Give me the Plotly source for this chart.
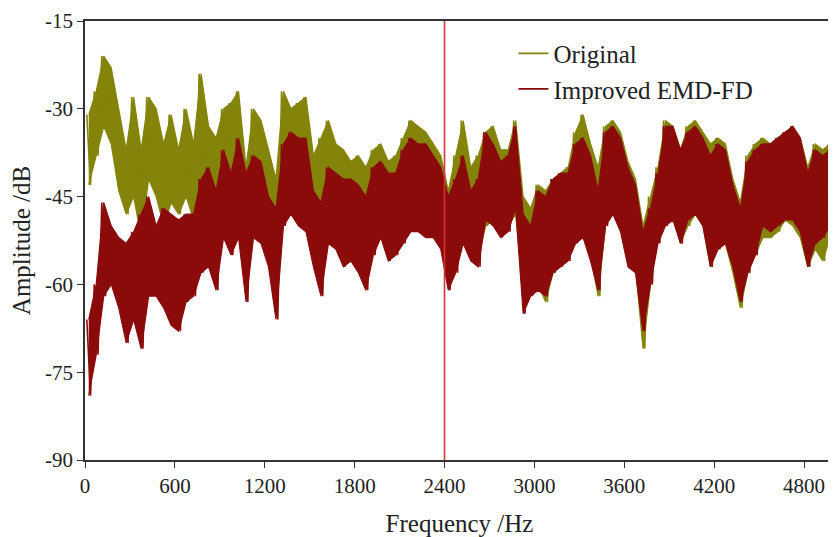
import plotly.graph_objects as go

# Frequency bins (Hz), 50 Hz wide, start of each bin
bin_start = list(range(0, 5000, 50))

# Original spectrum: upper / lower envelope of each 50 Hz bin (dB)
orig_hi = [-31, -27, -21, -23, -30, -37, -28, -37, -28, -30,
           -36, -31, -37, -30, -36, -24, -33, -35, -30, -29,
           -27, -40, -30, -32, -37, -42, -27, -30, -29, -28,
           -38, -35, -32, -36, -37, -39, -38, -40, -37, -36,
           -39, -38, -35, -32, -33, -34, -36, -38, -44, -38,
           -32, -40, -38, -34, -33, -37, -37, -32, -45, -47,
           -43, -44, -42, -41, -40, -34, -31, -36, -40, -33,
           -32, -34, -39, -42, -50, -45, -40, -32, -33, -37,
           -33, -32, -34, -36, -35, -36, -42, -46, -38, -36,
           -35, -36, -35, -34, -33, -35, -40, -36, -37, -36]
orig_lo = [-43, -38, -33, -36, -44, -48, -45, -52, -42, -45,
           -50, -46, -48, -45, -49, -44, -47, -49, -41, -42,
           -44, -54, -45, -47, -50, -60, -44, -46, -44, -46,
           -52, -57, -47, -50, -49, -51, -50, -54, -52, -50,
           -52, -53, -52, -48, -49, -50, -51, -52, -60, -56,
           -50, -52, -55, -50, -49, -51, -50, -48, -62, -60,
           -60, -63, -58, -56, -55, -52, -51, -55, -62, -50,
           -47, -50, -56, -57, -71, -60, -52, -49, -48, -53,
           -50, -48, -50, -57, -54, -53, -58, -64, -58, -55,
           -52, -52, -51, -49, -50, -52, -57, -54, -56, -52]

# Improved EMD-FD spectrum: upper / lower envelope of each 50 Hz bin (dB)
emd_hi = [-66, -60, -46, -50, -52, -53, -51, -48, -45, -50,
          -47, -48, -49, -48, -48, -42, -40, -44, -37, -41,
          -35, -41, -38, -39, -45, -47, -36, -34, -35, -35,
          -44, -46, -40, -41, -42, -42, -43, -45, -40, -39,
          -41, -41, -37, -35, -36, -36, -38, -40, -45, -42,
          -38, -44, -42, -34, -36, -39, -38, -33, -48, -50,
          -44, -45, -42, -41, -41, -36, -35, -38, -44, -34,
          -33, -35, -40, -43, -51, -47, -41, -33, -33, -37,
          -34, -33, -35, -38, -36, -37, -43, -47, -39, -37,
          -36, -36, -35, -34, -33, -35, -41, -37, -38, -37]
emd_lo = [-79, -72, -62, -60, -64, -70, -66, -71, -62, -62,
          -64, -67, -68, -63, -62, -58, -57, -61, -52, -55,
          -52, -63, -52, -53, -57, -66, -50, -48, -50, -51,
          -57, -62, -53, -54, -57, -56, -58, -61, -55, -52,
          -56, -55, -53, -51, -51, -52, -52, -54, -61, -58,
          -53, -56, -57, -49, -50, -52, -51, -47, -65, -62,
          -61, -62, -58, -57, -56, -53, -52, -56, -61, -50,
          -48, -51, -57, -58, -68, -60, -53, -50, -49, -53,
          -49, -48, -50, -57, -54, -53, -57, -63, -58, -55,
          -50, -51, -50, -49, -49, -51, -57, -53, -52, -50]

marker_freq = 2400

x_ticks = [0, 600, 1200, 1800, 2400, 3000, 3600, 4200, 4800]
y_ticks = [-90, -75, -60, -45, -30, -15]
y_tick_text = ["-90", "-75", "-60", "-45", "-30", "-15"]

OLIVE = "#84840a"
DARKRED = "#8b0b0b"
FONT = "Liberation Serif, Times New Roman, serif"


def zigzag(starts, hi, lo):
    xs, ys = [], []
    for s, h, l in zip(starts, hi, lo):
        xs += [s + 12, s + 37]
        ys += [h, l]
    return xs, ys


def band(starts, hi, lo):
    xs = [s + 25 for s in starts]
    return xs + xs[::-1], list(hi) + list(lo)[::-1]


fig = go.Figure()
for name, hi, lo, col, grp in [("Original", orig_hi, orig_lo, OLIVE, "a"),
                               ("Improved EMD-FD", emd_hi, emd_lo, DARKRED, "b")]:
    bx, by = band(bin_start, hi, lo)
    fig.add_trace(go.Scatter(x=bx, y=by, mode="lines", fill="toself",
                             fillcolor=col, line=dict(color=col, width=1.2),
                             showlegend=False, hoverinfo="skip"))
    zx, zy = zigzag(bin_start, hi, lo)
    fig.add_trace(go.Scatter(x=zx, y=zy, mode="lines", name=name,
                             legendgroup=grp, line=dict(color=col, width=1.6)))

fig.add_shape(type="line", x0=marker_freq, x1=marker_freq, y0=0, y1=1,
              xref="x", yref="paper", line=dict(color="#cf3535", width=1.6))

# the page body adds an 8 px offset; margins compensate so the plot area
# lands at x 85..834, y 21..460 in the 836x537 window
fig.update_layout(
    width=828, height=529,
    margin=dict(l=77, r=2, t=13, b=77),
    plot_bgcolor="white", paper_bgcolor="white",
    font=dict(family=FONT, size=21, color="#222"),
    showlegend=True,
    legend=dict(x=0.572, y=0.978, xanchor="left", yanchor="top",
                bgcolor="rgba(0,0,0,0)", font=dict(size=25, family=FONT),
                tracegroupgap=0, traceorder="grouped"),
    xaxis=dict(range=[0, 5000], tickvals=x_ticks, showgrid=False,
               zeroline=False, showline=True, linecolor="#333", linewidth=1.5,
               mirror=True, ticks="outside", ticklen=6, tickcolor="#333",
               tickfont=dict(size=21), automargin=False,
               title=dict(text="Frequency /Hz", font=dict(size=25), standoff=20)),
    yaxis=dict(range=[-90, -15], tickvals=y_ticks, ticktext=y_tick_text,
               showgrid=False,
               zeroline=False, showline=True, linecolor="#333", linewidth=1.5,
               mirror=True, ticks="outside", ticklen=6, tickcolor="#333",
               tickfont=dict(size=21), automargin=False,
               title=dict(text="Amplitude /dB", font=dict(size=25), standoff=9)),
)

fig.write_html("out.html")
